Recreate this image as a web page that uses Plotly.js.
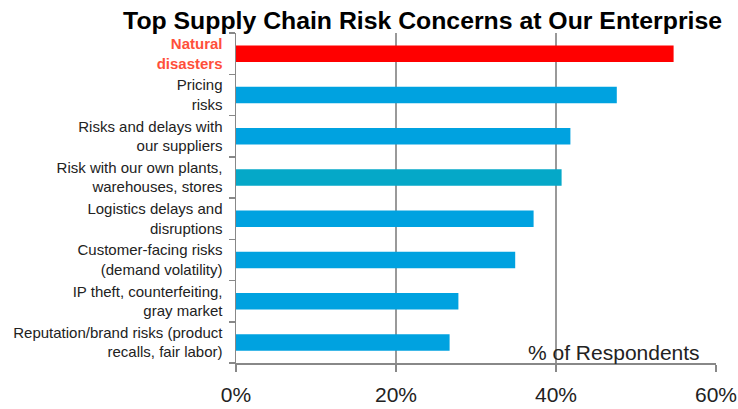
<!DOCTYPE html>
<html>
<head>
<meta charset="utf-8">
<script src="https://cdn.plot.ly/plotly-3.0.1.min.js"></script>
<style>html,body{margin:0;padding:0;background:#fff;}#chart{width:738px;height:409px;}</style>
</head>
<body>
<div id="chart"></div>
<script>
const categories = [
  "Natural<br>disasters",
  "Pricing<br>risks",
  "Risks and delays with<br>our suppliers",
  "Risk with our own plants,<br>warehouses, stores",
  "Logistics delays and<br>disruptions",
  "Customer-facing risks<br>(demand volatility)",
  "IP theft, counterfeiting,<br>gray market",
  "Reputation/brand risks (product<br>recalls, fair labor)"
];
const values = [54.7, 47.6, 41.8, 40.7, 37.2, 34.9, 27.8, 26.7];
const barColors = ["#FF0000", "#00A2E0", "#00A2E0", "#05A8C8", "#00A2E0", "#00A2E0", "#00A2E0", "#00A2E0"];
const xTickVals = [0, 20, 40, 60];
const xTickText = ["0%", "20%", "40%", "60%"];

const tickText = categories.map((c, i) => i === 0
  ? c.split("<br>").map(s => '<b><span style="color:#FF4F3A">' + s + '</span></b>').join("<br>")
  : c);

const trace = {
  type: "bar",
  orientation: "h",
  y: categories,
  x: values,
  marker: {color: barColors, line: {width: 0}},
  hoverinfo: "skip"
};

const layout = {
  width: 738, height: 409,
  margin: {l: 236, r: 22, t: 33, b: 46},
  paper_bgcolor: "#fff", plot_bgcolor: "#fff",
  bargap: 0.6,
  showlegend: false,
  font: {family: "Liberation Sans, Arial, sans-serif", color: "#222"},
  title: {
    text: "<b>Top Supply Chain Risk Concerns at Our Enterprise</b>",
    font: {size: 24.8, color: "#000", family: "Liberation Sans, Arial, sans-serif"},
    x: 722/738, xanchor: "right", xref: "container",
    y: 1 - 20/409, yanchor: "middle", yref: "container"
  },
  xaxis: {
    range: [0, 60],
    tickvals: xTickVals, ticktext: xTickText,
    ticks: "outside", ticklen: 7, tickcolor: "#888", tickwidth: 1.5,
    showgrid: true, gridcolor: "#999", gridwidth: 1.5,
    showline: true, linecolor: "#888", linewidth: 1.5,
    zeroline: false,
    tickfont: {size: 21, color: "#222"},
    ticklabelstandoff: 5,
    fixedrange: true
  },
  yaxis: {
    type: "category",
    categoryorder: "array", categoryarray: categories,
    autorange: "reversed",
    tickvals: categories, ticktext: tickText,
    tickson: "boundaries",
    ticks: "outside", ticklen: 6, tickcolor: "#888", tickwidth: 1.5,
    showgrid: false,
    showline: true, linecolor: "#888", linewidth: 1.5,
    tickfont: {size: 15, color: "#222"},
    ticklabelstandoff: 9,
    fixedrange: true
  },
  annotations: [{
    text: "% of Respondents",
    xref: "paper", yref: "paper",
    x: (702 - 236) / 480, y: 0,
    xanchor: "right", yanchor: "bottom",
    yshift: -3,
    showarrow: false,
    font: {size: 21, color: "#222"}
  }]
};

Plotly.newPlot("chart", [trace], layout, {displayModeBar: false, staticPlot: true});
</script>
</body>
</html>
